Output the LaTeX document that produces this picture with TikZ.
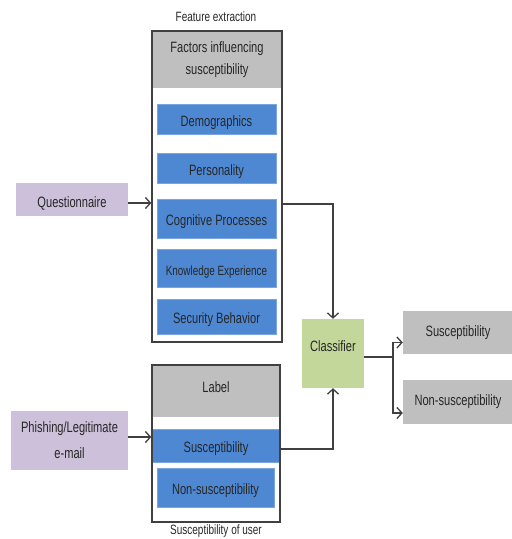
\documentclass[tikz,border=0pt]{standalone}
\usepackage{fontspec}
\setmainfont[FakeStretch=0.74]{Liberation Sans}
\usepackage{xcolor}
\usetikzlibrary{arrows.meta}
\definecolor{linegray}{HTML}{404040}
\definecolor{hdrgray}{HTML}{BFBFBF}
\definecolor{itemblue}{HTML}{4F88D2}
\definecolor{inpurple}{HTML}{CCC0DA}
\definecolor{clfgreen}{HTML}{C4D79B}
\tikzset{
  every node/.style={font=\fontsize{15}{22}\selectfont, text=black!85, inner sep=0pt, align=center},
  caption/.style={font=\fontsize{13.5}{16}\selectfont},
  frame/.style={draw=linegray, line width=1.4pt},
  hdr/.style={fill=hdrgray, minimum width=128pt},
  item/.style={fill=itemblue, draw=itemblue!75!white, line width=0.6pt, text height=14pt, text depth=0pt},
  arr/.style={draw=linegray, line width=1.3pt, ->},
  >={Straight Barb[length=5pt,width=11pt]}
}
\begin{document}
\begin{tikzpicture}[x=1pt,y=-1pt]
   \useasboundingbox (0,0) rectangle (512,539);
   % feature extraction
   \node[caption] (featcap) at (216,17) {Feature extraction};
   \node[hdr, minimum width=130pt, minimum height=57pt] (factors) at (217,59.5) {Factors influencing\\susceptibility};
   \node[frame, minimum width=130pt, minimum height=311pt] (feat) at (217,186.5) {};
   \node[item, minimum width=119pt, minimum height=30pt] (demo) at (216.5,119) {Demographics};
   \node[item, minimum width=119pt, minimum height=30pt] (pers) at (216.5,168) {Personality};
   \node[item, minimum width=119pt, minimum height=39pt] (cogn) at (216.5,218.5) {Cognitive Processes};
   \node[item, minimum width=119pt, minimum height=38pt] (know) at (216.5,268) {\fontsize{13.4}{15}\selectfont Knowledge Experience};
   \node[item, minimum width=119pt, minimum height=35pt] (secu) at (216.5,316.5) {Security Behavior};
   % label
   \node[hdr, minimum width=128pt, minimum height=52pt, text height=11pt, text depth=8pt] (labelhdr) at (216,391) {Label};
   \node[item, minimum width=128pt, minimum height=33pt] (suscin) at (216,445.5) {Susceptibility};
   \node[item, minimum width=117pt, minimum height=39pt] (nonsuscin) at (215.5,487.5) {Non-susceptibility};
   \node[frame, minimum width=128pt, minimum height=157pt] (labelbox) at (216,443.5) {};
   \node[caption] (usercap) at (216,531) {Susceptibility of user};
   % inputs
   \node[fill=inpurple, minimum width=112pt, minimum height=33pt, text height=16pt, text depth=0pt] (quest) at (72,199.5) {Questionnaire};
   \node[fill=inpurple, minimum width=117pt, minimum height=59pt] (phish) at (69.5,440.5) {Phishing/Legitimate\\[4pt]e-mail};
   % classifier and outputs
   \node[fill=clfgreen, minimum width=62pt, minimum height=69pt, text height=4pt, text depth=8pt] (clf) at (333,353.5) {Classifier};
   \node[fill=hdrgray, minimum width=110pt, minimum height=43pt] (suscout) at (458,332.5) {Susceptibility};
   \node[fill=hdrgray, minimum width=110pt, minimum height=44pt] (nonsuscout) at (458,402) {Non-susceptibility};
   \coordinate (split) at (393,357);
   % connectors
   \draw[arr] (quest.east |- 0,203) -- (feat.west |- 0,203);
   \draw[arr] (phish.east |- 0,437) -- (labelbox.west |- 0,437);
   \draw[arr] (feat.east |- 0,204) -| (clf.north);
   \draw[arr] (suscin.east |- 0,449) -| (clf.south);
   \draw[draw=linegray, line width=1.3pt] (clf.east |- split) -- (split);
   \draw[arr] (split) |- ([yshift=-10pt]suscout.west);
   \draw[arr] (split) |- ([yshift=-11pt]nonsuscout.west);
\end{tikzpicture}
\end{document}
